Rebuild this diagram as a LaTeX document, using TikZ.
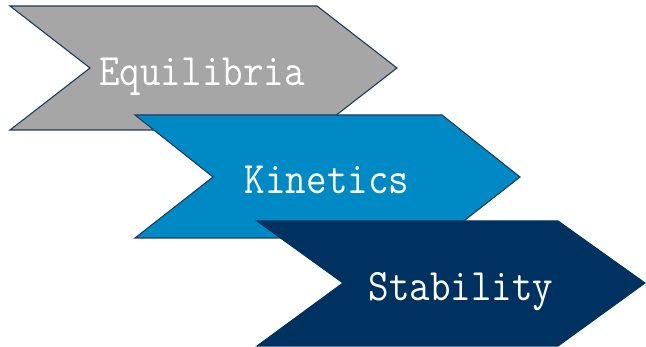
\documentclass[tikz,border=0pt]{standalone}
\usepackage{fontspec}
\definecolor{cgray}{HTML}{A6A6A6}
\definecolor{cblue}{HTML}{008AC5}
\definecolor{cnavy}{HTML}{003261}
\definecolor{cedge}{HTML}{1F3A60}
\tikzset{
  chev/.style={draw=cedge, line width=1.1pt, line join=miter},
  lbl/.style={text=white, anchor=base, inner sep=0pt, font=\ttfamily\fontsize{45}{45}\selectfont}
}
\newcommand{\narrow}[1]{\scalebox{0.885}[1]{#1}}
\begin{document}
\begin{tikzpicture}[x=1pt,y=-1pt]
\path[use as bounding box] (0,0) rectangle (646,347);
% gray chevron
\filldraw[chev, fill=cgray] (10,6) -- (317,6) -- (397,68) -- (317,130) -- (10,130) -- (90,68) -- cycle;
% blue chevron
\filldraw[chev, fill=cblue] (135,115) -- (442,115) -- (520,177) -- (442,238) -- (135,238) -- (213,177) -- cycle;
% navy chevron
\filldraw[chev, draw=cnavy, fill=cnavy] (257,221) -- (558,221) -- (645,283) -- (558,346) -- (257,346) -- (343,283) -- cycle;
\node[lbl] (equil) at (202,86) {\narrow{Equilibria}};
\node[lbl] (kin) at (327,194) {\narrow{Kinetics}};
\node[lbl] (stab) at (461,301) {\narrow{Stability}};
\end{tikzpicture}
\end{document}
